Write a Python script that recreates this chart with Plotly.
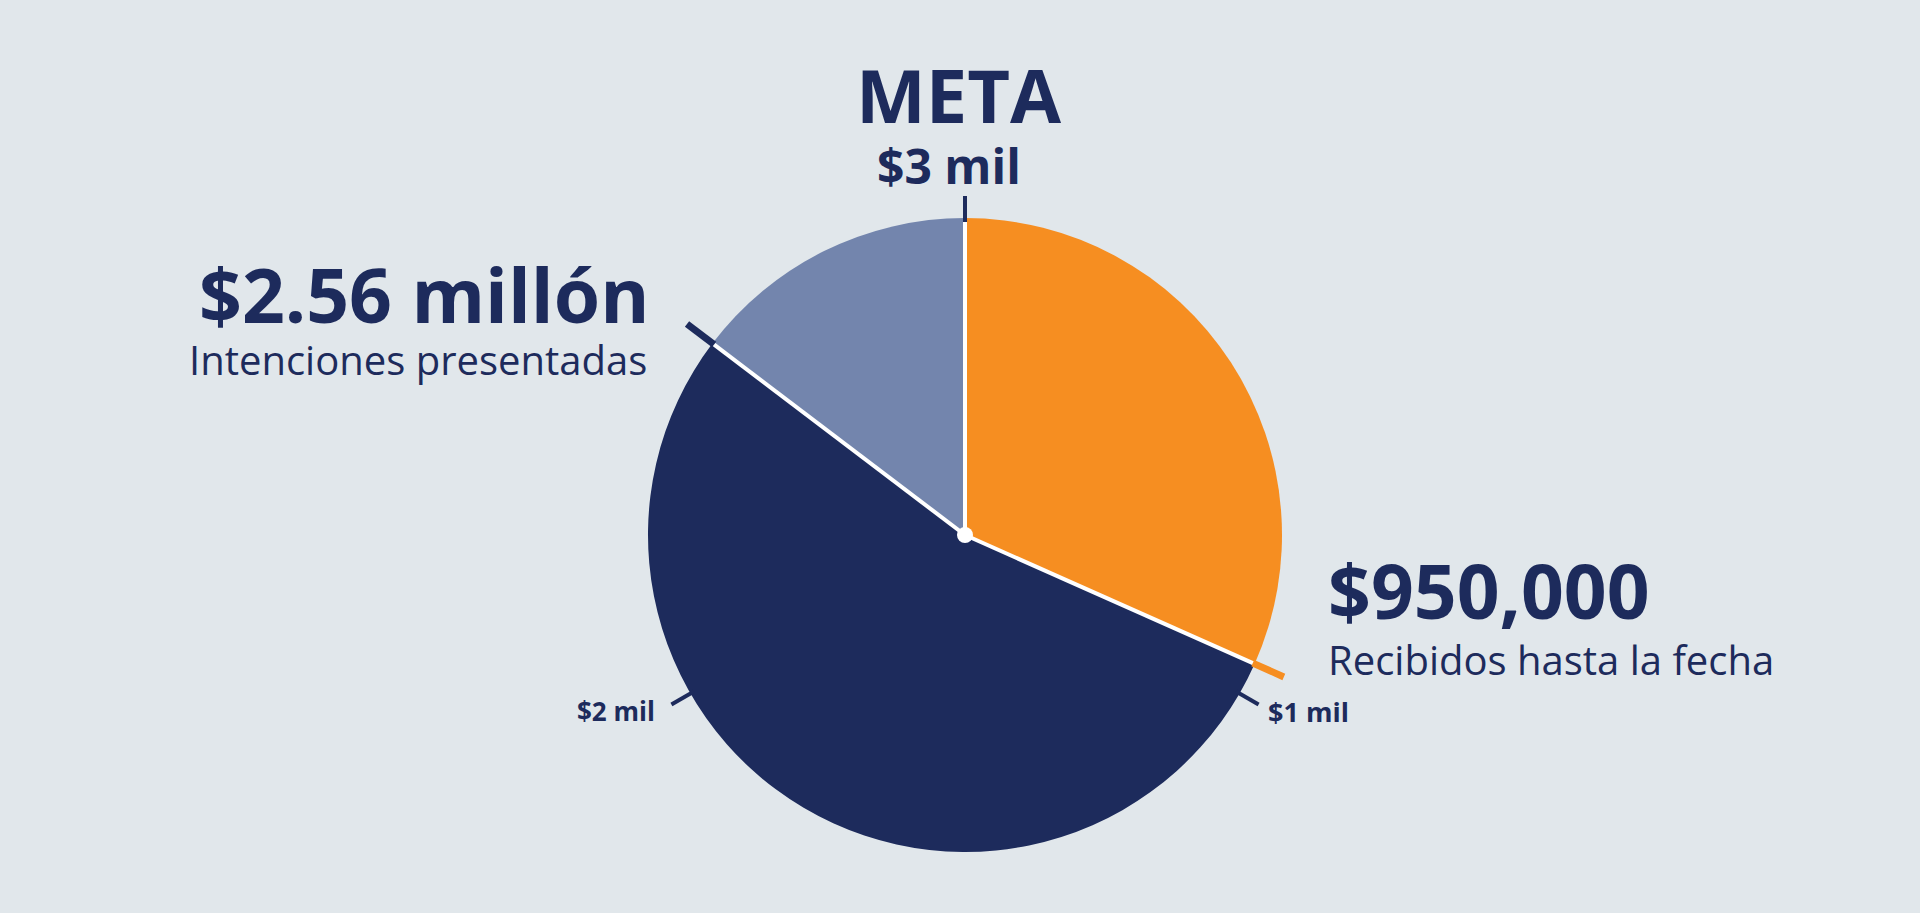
import numpy as np
import plotly.graph_objects as go

# campaign numbers
goal = 3000000
received = 950000
pledged = 2560000
slice_names = ["Recibidos hasta la fecha", "Intenciones presentadas", "Restante"]
slice_values = [received, pledged - received, goal - pledged]
slice_colors = ["#f68e21", "#1d2b5c", "#7385ad"]
tick_values = [1000000, 2000000, 3000000]
tick_labels = ["$1 mil", "$2 mil", "$3 mil"]

W, H = 1920, 913
cx, cy = 965, 535      # pie centre in pixels (from top)
R = 317
navy = "#1d2b5c"
bg = "#e1e7eb"


def pt(angle, r):
    # angle in degrees clockwise from 12 o'clock -> data coords (pixel units)
    a = np.radians(angle)
    return cx + r * np.sin(a), (H - cy) + r * np.cos(a)


fig = go.Figure()
fig.add_trace(go.Pie(
    labels=slice_names, values=slice_values, sort=False,
    direction="clockwise", rotation=0,
    marker=dict(colors=slice_colors, line=dict(width=0)),
    textinfo="none", hoverinfo="label+value", showlegend=False,
    domain=dict(x=[(cx - R) / W, (cx + R) / W],
                y=[(H - cy - R) / H, (H - cy + R) / H]),
))

shapes = []
# white separators between slices
bounds = np.cumsum([0] + slice_values[:-1]) / goal * 360
for b in bounds:
    x0, y0 = pt(b, 0)
    x1, y1 = pt(b, R)
    shapes.append(dict(type="line", x0=x0, y0=y0, x1=x1, y1=y1,
                       line=dict(color="white", width=4), layer="above"))

# outer marks for received / pledged
for val, col in [(received, "#f68e21"), (pledged, navy)]:
    a = val / goal * 360
    x0, y0 = pt(a, R - 2)
    x1, y1 = pt(a, R + 32)
    shapes.append(dict(type="line", x0=x0, y0=y0, x1=x1, y1=y1,
                       line=dict(color=col, width=7), layer="above"))

# goal ticks
for val in tick_values:
    a = val / goal * 360
    x0, y0 = pt(a, R - 4)
    x1, y1 = pt(a, R + 22)
    shapes.append(dict(type="line", x0=x0, y0=y0, x1=x1, y1=y1,
                       line=dict(color=navy, width=4), layer="above"))

# centre dot
shapes.append(dict(type="circle", x0=cx - 8, x1=cx + 8,
                   y0=H - cy - 8, y1=H - cy + 8,
                   fillcolor="white", line=dict(width=0), layer="above"))

font_name = "Open Sans"


def ann(text, x, y, size, anchor, weight="bold"):
    return dict(text=text, x=x, y=H - y, xref="x", yref="y", showarrow=False,
                xanchor=anchor, yanchor="middle",
                font=dict(family=font_name, size=size, color=navy, weight=weight))


annotations = [
    ann("META", 959, 94, 74, "center"),
    ann(tick_labels[2], 949, 165, 48, "center"),
    ann("$2.56 millón", 651, 294, 75, "right"),
    ann(slice_names[1], 649, 359, 40, "right", "normal"),
    ann("$950,000", 1326, 590, 75, "left"),
    ann(slice_names[0], 1326, 659, 40, "left", "normal"),
    ann(tick_labels[0], 1266, 711, 27, "left"),
    ann(tick_labels[1], 657, 711, 26, "right"),
]

fig.update_layout(
    width=W, height=H,
    margin=dict(l=0, r=0, t=0, b=0),
    paper_bgcolor=bg, plot_bgcolor=bg,
    xaxis=dict(range=[0, W], visible=False, fixedrange=True),
    yaxis=dict(range=[0, H], visible=False, fixedrange=True),
    shapes=shapes, annotations=annotations,
)

fig.write_html("out.html", config={"displayModeBar": False},
               post_script="document.body.style.margin='0';")
